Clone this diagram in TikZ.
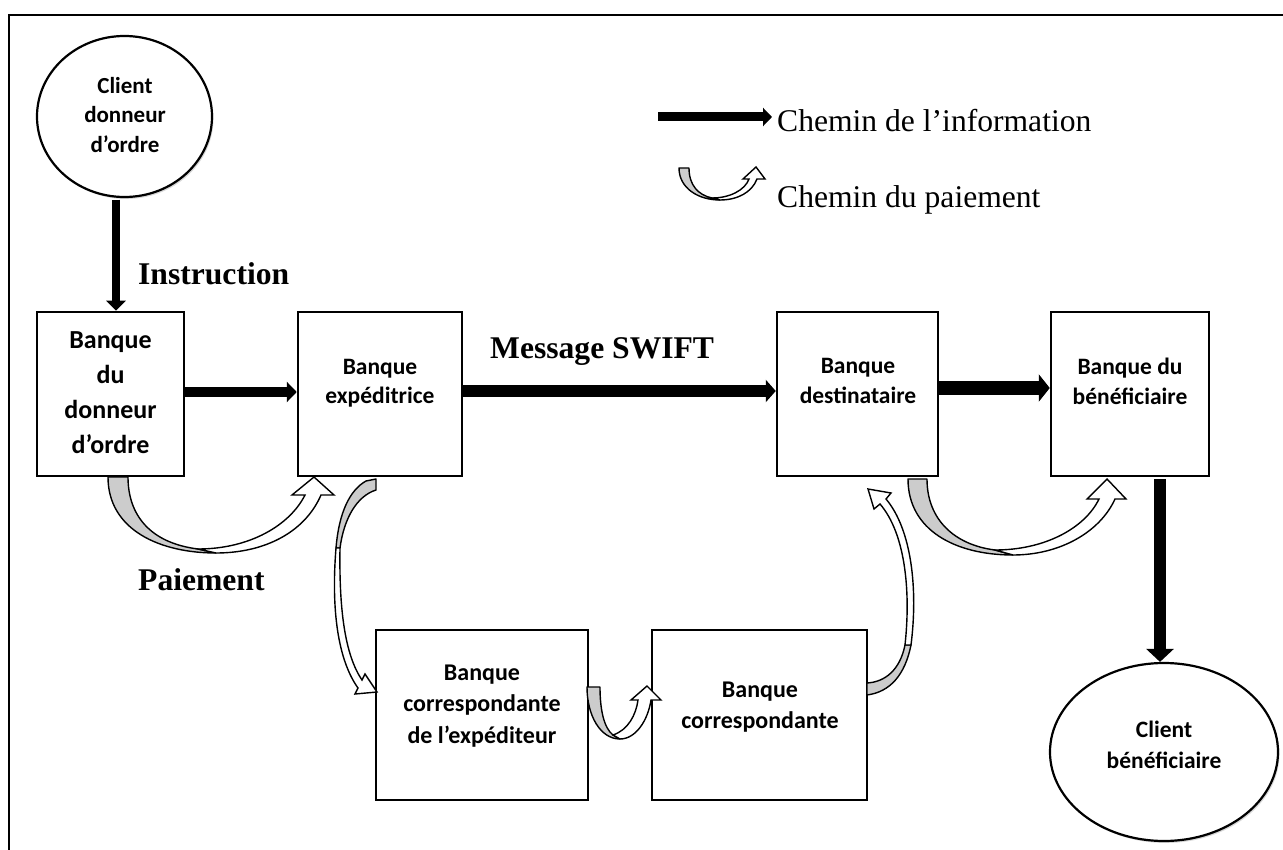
\documentclass[tikz,border=0pt]{standalone}
\usepackage{fontspec}
\setmainfont{Liberation Serif}
\newfontfamily\calib{Carlito}
\usetikzlibrary{arrows.meta,shapes.geometric,shadows,calc}
\definecolor{paygray}{RGB}{204,204,204}
\tikzset{
  bankbox/.style={draw=black, line width=2.5pt, fill=white, inner sep=0pt},
  clientell/.style={ellipse, draw=black, line width=2.2pt, fill=white, inner sep=0pt,
    drop shadow={fill=black!35, opacity=0.45, shadow xshift=1.5pt, shadow yshift=-2pt}},
  boxtxt/.style={font=\calib\bfseries\fontsize{23.5}{29.5}\selectfont, align=center, inner sep=0pt},
  serlab/.style={font=\bfseries\fontsize{31.6}{36}\selectfont, inner sep=0pt, anchor=base west},
  legtxt/.style={font=\fontsize{31.6}{36}\selectfont, inner sep=0pt, anchor=base west},
  payback/.style={fill=paygray, draw=black, line width=1.4pt, line join=round},
  payfront/.style={fill=white, draw=black, line width=1.4pt, line join=miter},
}
\begin{document}
\begin{tikzpicture}[x=1pt,y=-1pt]
\useasboundingbox (0,0) rectangle (1283,850);
% frame
\draw[line width=2.8pt] (9,850) -- (9,15) -- (1283,15);

% client nodes
\node[clientell, minimum width=175pt, minimum height=161pt] (c1) at (124.5,116.5) {};
\node[boxtxt, font=\calib\bfseries\fontsize{23}{29.5}\selectfont] (c1t) at (125,115) {Client\\donneur\\d’ordre};
\node[clientell, minimum width=228pt, minimum height=178pt] (c2) at (1164,752) {};
\node[boxtxt, font=\calib\bfseries\fontsize{23.5}{31}\selectfont] (c2t) at (1164,745) {Client\\bénéficiaire};

% bank boxes
\node[bankbox, minimum width=147pt, minimum height=164pt] (b1) at (110.5,394) {};
\node[boxtxt, font=\calib\bfseries\fontsize{26}{35}\selectfont] (b1t) at (110.5,393) {Banque\\du\\donneur\\d’ordre};
\node[bankbox, minimum width=164pt, minimum height=164pt] (b2) at (380,394) {};
\node[boxtxt, font=\calib\bfseries\fontsize{23.5}{28.5}\selectfont] (b2t) at (380,383) {Banque\\expéditrice};
\node[bankbox, minimum width=161pt, minimum height=164pt] (b3) at (857.5,394) {};
\node[boxtxt, font=\calib\bfseries\fontsize{23.5}{30}\selectfont] (b3t) at (858,381) {Banque\\destinataire};
\node[bankbox, minimum width=158pt, minimum height=164pt] (b4) at (1130,394) {};
\node[boxtxt, font=\calib\bfseries\fontsize{23.5}{30}\selectfont] (b4t) at (1130,381) {Banque du\\bénéficiaire};
\node[bankbox, minimum width=212pt, minimum height=170pt] (b5) at (482,715) {};
\node[boxtxt, font=\calib\bfseries\fontsize{24}{31.5}\selectfont] (b5t) at (482,706) {Banque\\correspondante\\de l’expéditeur};
\node[bankbox, minimum width=215pt, minimum height=170pt] (b6) at (759.5,715) {};
\node[boxtxt, font=\calib\bfseries\fontsize{24}{31}\selectfont] (b6t) at (760,707) {Banque\\correspondante};

% labels
\node[serlab] (lins) at (138,285) {Instruction};
\node[serlab] (lmsg) at (490,359) {Message SWIFT};
\node[serlab] (lpai) at (138,590) {Paiement};

% information arrows
\draw[line width=8pt, -{Triangle[length=10pt,width=19pt]}] ([xshift=-8.5pt,yshift=-1.5pt]c1.south) -- ([xshift=5.5pt]b1.north);
\draw[line width=10pt, -{Triangle[length=10pt,width=20pt]}] ([yshift=2pt]b1.east) -- ([yshift=2pt]b2.west);
\draw[line width=11pt, -{Triangle[length=10pt,width=22pt]}] ([yshift=3pt]b2.east) -- ([yshift=3pt]b3.west);
\draw[line width=13pt, -{Triangle[length=11pt,width=27pt]}] ([yshift=6pt]b3.east) -- ([yshift=6pt]b4.west);
\draw[line width=12pt, -{Triangle[length=13pt,width=27pt]}] ([xshift=30pt,yshift=-1.5pt]b4.south) -- ([xshift=-4pt]c2.north);

% legend
\coordinate (la1) at (658,117);
\coordinate (la2) at (772,117);
\draw[line width=9pt, -{Triangle[length=9pt,width=18pt]}] (la1) -- (la2);
\node[legtxt] (l1) at (777,132) {Chemin de l’information};
\node[legtxt] (l2) at (777,208) {Chemin du paiement};
% legend payment arrow
\draw[payback] (679,168) .. controls (679,188) and (698,200) .. (720,200) -- (712,198) .. controls (698,195) and (689,185) .. (689,168) -- cycle;
\draw[payfront] (712,198) .. controls (730,198) and (745,190) .. (749,179) -- (743,179) -- (756,167) -- (765,179) -- (757,179) .. controls (752,192) and (738,200) .. (720,200) -- cycle;

% payment arrow A : b1 -> b2
\draw[payback] (108,477) .. controls (108,530) and (160,553) .. (216,553) -- (198,549) .. controls (150,543) and (128,515) .. (128,477) -- cycle;
\draw[payfront] (198,549) .. controls (250,549) and (290,525) .. (305,495) -- (292,495) -- (314,477) -- (334,495) -- (321,495) .. controls (305,532) and (265,553) .. (216,553) -- cycle;

% payment arrow B : b3 -> b4
\draw[payback] (908,479) .. controls (908,530) and (955,555) .. (1013,555) -- (995,550) .. controls (955,545) and (927,520) .. (927,479) -- cycle;
\draw[payfront] (995,550) .. controls (1045,550) and (1085,528) .. (1099,499) -- (1087,499) -- (1107,479) -- (1126,499) -- (1115,499) .. controls (1100,532) and (1060,555) .. (1013,555) -- cycle;

% payment arrow C : b5 -> b6
\draw[payback] (587,687) .. controls (587,715) and (600,739) .. (620,739) -- (613,735) .. controls (604,728) and (600,710) .. (600,687) -- cycle;
\draw[payfront] (613,735) .. controls (628,730) and (636,715) .. (638,700) -- (631,700) -- (647,686) -- (661,700) -- (651,700) .. controls (648,720) and (636,739) .. (620,739) -- cycle;

% payment arrow D : b2 -> b5
\draw[payback] (366,481) -- (376,479) -- (376,490) .. controls (357,496) and (344,518) .. (340,548) -- (336,548) .. controls (339,512) and (350,490) .. (366,481) -- cycle;
\draw[payfront] (340,548) .. controls (339,610) and (345,655) .. (362,680) -- (365,674) -- (377,692) -- (355,694) -- (358,688) .. controls (338,660) and (331,610) .. (336,548) -- cycle;

% payment arrow E : b6 -> b3
\draw[payback] (867,683) -- (867,695) .. controls (890,692) and (905,675) .. (911,645) -- (905,645) .. controls (900,670) and (885,682) .. (867,683) -- cycle;
\draw[payfront] (911,645) .. controls (918,590) and (912,530) .. (886,499) -- (891,493) -- (868,489) -- (874,509) -- (880,504) .. controls (905,533) and (911,590) .. (905,645) -- cycle;
\end{tikzpicture}
\end{document}
